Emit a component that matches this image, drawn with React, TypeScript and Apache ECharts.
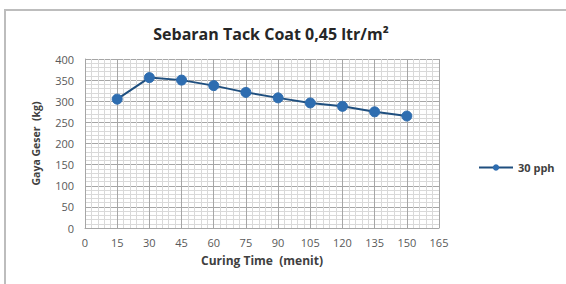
import React, { useEffect, useRef } from "react";
import * as echarts from "echarts";

const curingTime = [15, 30, 45, 60, 75, 90, 105, 120, 135, 150];
const gayaGeser = [305, 356, 350, 337, 321, 308, 296, 288, 275, 265];
const seriesName = "30 pph";
const titleText = "Sebaran Tack Coat 0,45 ltr/m²";
const xName = "Curing Time  (menit)";
const yName = "Gaya Geser  (kg)";

export default function App() {
  const ref = useRef<HTMLDivElement>(null);
  useEffect(() => {
    if (!ref.current) return;
    const chart = echarts.init(ref.current, undefined, { renderer: "svg" });
    const font = "'Open Sans', 'Noto Sans', sans-serif";
    chart.setOption({
      animation: false,
      backgroundColor: "#ffffff",
      textStyle: { fontFamily: font },
      title: {
        text: titleText,
        left: 266,
        top: 21,
        textAlign: "center",
        textStyle: { fontSize: 16, fontWeight: "bold", color: "#262626", fontFamily: font },
      },
      graphic: [
        {
          type: "rect",
          shape: { x: 5, y: 10, width: 620, height: 320 },
          style: { fill: "none", stroke: "#bdbdbd", lineWidth: 2 },
          silent: true,
        },
      ],
      legend: {
        data: [seriesName],
        left: 473,
        top: 157,
        itemWidth: 34,
        itemHeight: 8,
        itemGap: 3,
        textStyle: { fontSize: 11, fontWeight: "bold", color: "#404040", fontFamily: font },
      },
      grid: { left: 85, right: 127, top: 59, bottom: 56, containLabel: false },
      xAxis: {
        type: "value",
        min: 0,
        max: 165,
        interval: 15,
        name: xName,
        nameLocation: "middle",
        nameGap: 26,
        nameTextStyle: { fontSize: 12, fontWeight: "bold", color: "#404040" },
        axisLine: { show: true, lineStyle: { color: "#a6a6a6", width: 1 } },
        axisTick: { show: false },
        axisLabel: { fontSize: 11, color: "#595959", margin: 9 },
        splitLine: { show: true, lineStyle: { color: "#a6a6a6", width: 1 } },
        minorTick: { show: false, splitNumber: 5 },
        minorSplitLine: { show: true, lineStyle: { color: "#d9d9d9", width: 1 } },
      },
      yAxis: {
        type: "value",
        min: 0,
        max: 400,
        interval: 50,
        name: yName,
        nameLocation: "middle",
        nameGap: 44,
        nameRotate: 90,
        nameTextStyle: { fontSize: 10.5, fontWeight: "bold", color: "#404040" },
        axisLine: { show: true, lineStyle: { color: "#a6a6a6", width: 1 } },
        axisTick: { show: false },
        axisLabel: { fontSize: 11, color: "#595959", margin: 11 },
        splitLine: { show: true, lineStyle: { color: "#a6a6a6", width: 1 } },
        minorTick: { show: false, splitNumber: 5 },
        minorSplitLine: { show: true, lineStyle: { color: "#d9d9d9", width: 1 } },
      },
      series: [
        {
          name: seriesName,
          type: "line",
          data: curingTime.map((t, i) => [t, gayaGeser[i]]),
          symbol: "circle",
          symbolSize: 10,
          lineStyle: { color: "#1f4f7f", width: 2 },
          itemStyle: { color: "#2e6db0", borderColor: "#2e6db0" },
        },
      ],
    });
    return () => chart.dispose();
  }, []);
  return (
    <div
      ref={ref}
      style={{ position: "absolute", left: 0, top: 0, width: 566, height: 284 }}
    />
  );
}
